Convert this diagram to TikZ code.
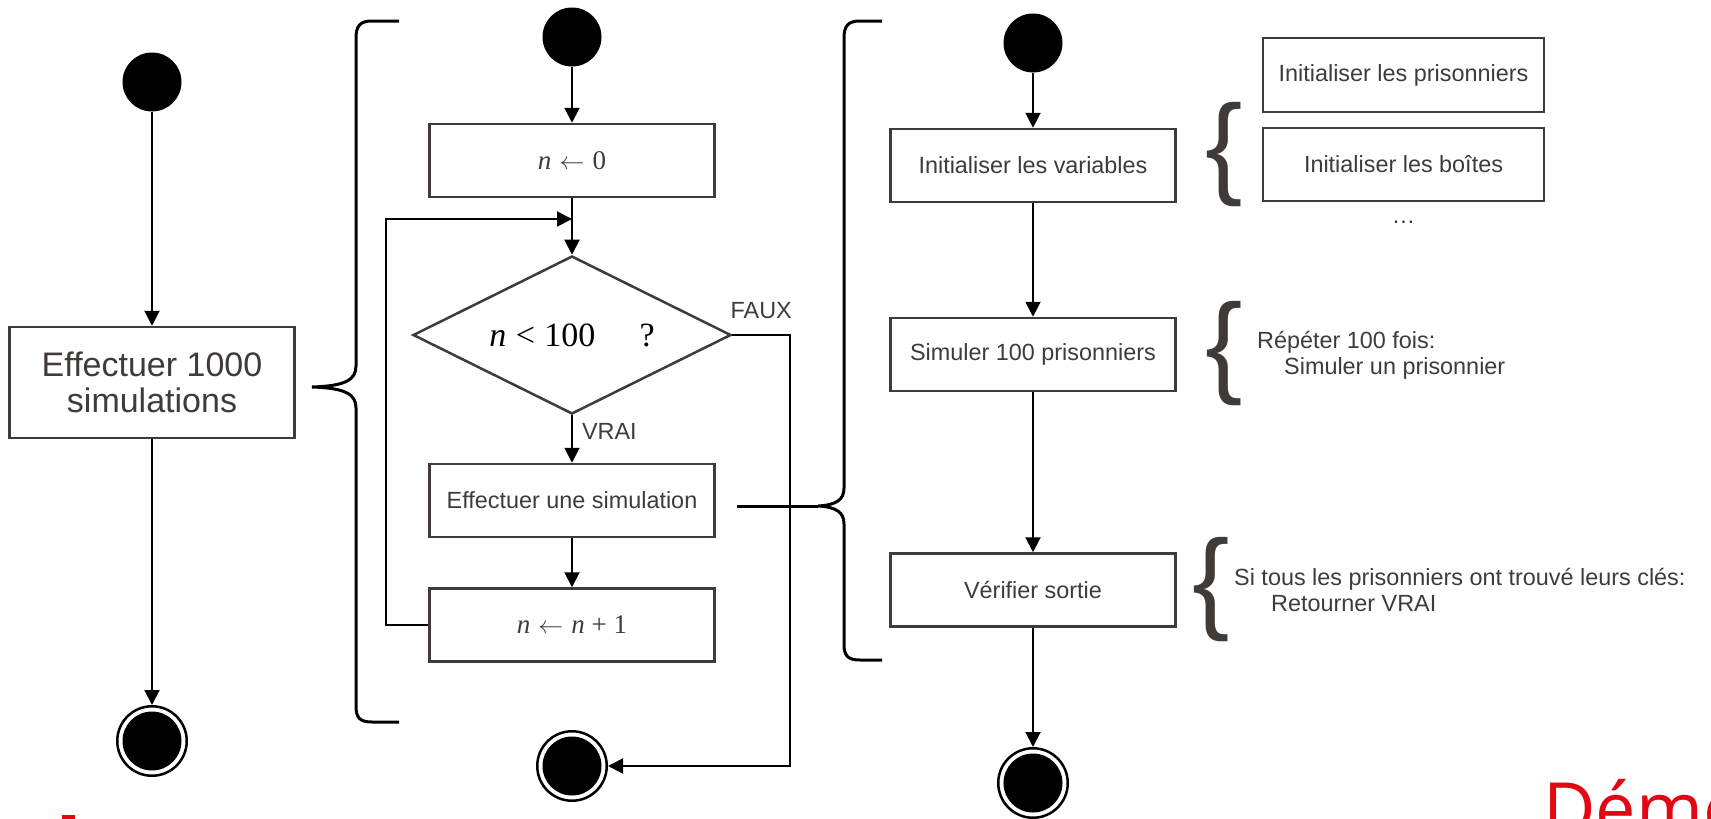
\documentclass[tikz,border=0pt]{standalone}
\usepackage{fontspec}
\setmainfont{Liberation Sans}
\newfontfamily\formulafont{Liberation Serif}
\newfontfamily\demofont{Open Sans}
\usetikzlibrary{positioning,shapes.geometric,arrows.meta}
\definecolor{ink}{RGB}{64,59,57}
\definecolor{demored}{RGB}{227,6,19}

\begin{document}
\begin{tikzpicture}[x=1pt,y=-1pt,on grid,
    txt/.style={text=ink,font=\fontsize{23.4}{26}\selectfont},
    action/.style={txt,draw=ink,line width=2.5pt,fill=white,inner sep=0pt,minimum width=285pt,minimum height=73pt},
    bigaction/.style={action,minimum height=111pt,align=center,font=\fontsize{34}{36}\selectfont},
    decision/.style={diamond,draw=ink,line width=2.5pt,fill=white,inner sep=0pt,aspect=2,minimum width=318pt,minimum height=158pt},
    startdot/.style={circle,fill=black,inner sep=0pt,minimum size=59pt},
    enddot/.style={circle,draw=black,line width=2.5pt,fill=white,inner sep=0pt,minimum size=69.5pt,
      path picture={\fill[black] (path picture bounding box.center) circle[radius=29.5pt];}},
    flow/.style={-{Triangle[length=15pt,width=15pt]},line width=2pt},
    brace/.style={line width=3pt},
    curly/.style={text=ink,inner sep=0pt,font=\fontsize{112}{112}\selectfont},
    note/.style={txt,align=left,anchor=west,inner sep=0pt},
    lbl/.style={txt,inner sep=0pt}]
   \path[use as bounding box,clip] (0,0) rectangle (1711,819);

   % colonne de gauche
   \node[startdot] (start1) at (152,82) {};
   \node[bigaction] (runall) [below=300.5pt of start1] {Effectuer 1000\\simulations};
   \node[enddot] (end1) [below=358.5pt of runall] {};
   \path[flow] (start1) edge (runall) (runall) edge (end1);

   % boucle sur n
   \node[startdot] (start2) at (572,37) {};
   \node[action] (init) [below=123.5pt of start2] {\formulafont\fontsize{27}{27}\selectfont\textit{n}\hspace{0.3em}$\leftarrow$\hspace{0.3em}0};
   \node[decision] (test) [below=174.5pt of init] {\formulafont\fontsize{34}{34}\selectfont\textit{n}\hspace{0.28em}<\hspace{0.28em}100\hspace{1.3em}?};
   \node[action] (runone) [below=165.5pt of test] {Effectuer une simulation};
   \node[action] (incr) [below=124.5pt of runone] {\formulafont\fontsize{27}{27}\selectfont\textit{n}\hspace{0.3em}$\leftarrow$\hspace{0.3em}\textit{n}\hspace{0.25em}+\hspace{0.25em}1};
   \node[enddot] (end2) [below=141pt of incr] {};
   \coordinate (join) at (572,219);
   \path[flow] (start2) edge (init) (init) edge (test)
    (test) edge node[lbl,anchor=west,xshift=9pt,pos=0.35] {VRAI} (runone)
    (runone) edge (incr);
   \draw[flow] (incr.west) -- ++(-42.5pt,0) |- (join);
   \draw[flow] (test.east) -- node[lbl,above=15pt] {FAUX} ++(58pt,0) |- (end2);

   % une simulation
   \node[startdot] (start3) at (1033,43) {};
   \node[action] (vars) [below=122.5pt of start3] {Initialiser les variables};
   \node[action] (hundred) [below=189pt of vars] {Simuler 100 prisonniers};
   \node[action] (check) [below=235.5pt of hundred] {Vérifier sortie};
   \node[enddot] (end3) [below=193pt of check] {};
   \path[flow] (start3) edge (vars) (vars) edge (hundred)
    (hundred) edge (check) (check) edge (end3);

   % details
   \node[action,minimum width=281pt,minimum height=74pt] (prisoners) at (1403.5,75) {Initialiser les prisonniers};
   \node[action,minimum width=281pt] (boxes) [below=89.5pt of prisoners] {Initialiser les boîtes};
   \node[lbl] (more) [below=57.5pt of boxes] {…};
   \node[curly] (curlyinit) at (1224,155) {\{};
   \node[curly] (curlyrep) at (1224,354) {\{};
   \node[curly] (curlycheck) at (1211,590) {\{};
   \node[note] (reptext) at (1257,355) {Répéter 100 fois:\\\hspace*{27pt}Simuler un prisonnier};
   \node[note] (checktext) at (1234,590) {Si tous les prisonniers ont trouvé leurs clés:\\\hspace*{37pt}Retourner VRAI};

   % accolades
   \coordinate (tipone) at (312,387);
   \coordinate (tiptwo) at (818,506);
   \coordinate (simout) at (737,506);
   \draw[brace] (399,21) -- (372,21) .. controls (360,21) and (356,26) .. (356,38) -- (356,366)
     .. controls (356,380) and (345,386) .. (tipone) .. controls (345,388) and (356,394) .. (356,408)
     -- (356,706) .. controls (356,718) and (360,722) .. (372,722) -- (399,722);
   \draw[brace] (882,21) -- (860,21) .. controls (848,21) and (844,26) .. (844,38) -- (844,488)
     .. controls (844,500) and (836,505) .. (tiptwo) .. controls (836,507) and (844,512) .. (844,524)
     -- (844,644) .. controls (844,656) and (848,660) .. (860,660) -- (882,660);
   \draw[brace] (simout) -- (tiptwo);

   \fill[demored] (62,815) rectangle (75,819);
   \node[anchor=base west,inner sep=0pt,text=demored,font=\demofont\fontsize{72}{72}\selectfont] (demo) at (1543,834) {Démo};
\end{tikzpicture}
\end{document}
